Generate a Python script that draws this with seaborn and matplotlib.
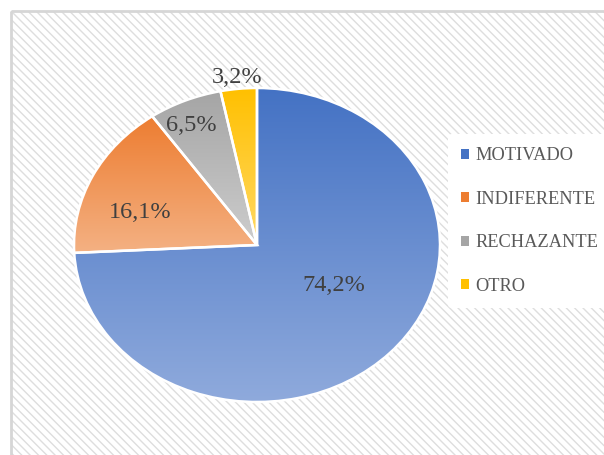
import numpy as np
import matplotlib
matplotlib.use("Agg")
import matplotlib.pyplot as plt
from matplotlib.patches import Rectangle, Patch
from matplotlib.colors import to_rgb
import seaborn as sns

categories = ["MOTIVADO", "INDIFERENTE", "RECHAZANTE", "OTRO"]
values = [74.2, 16.1, 6.5, 3.2]
top_colors = ["#4472C4", "#ED7D31", "#A5A5A5", "#FFC000"]
bottom_colors = ["#8FAADC", "#F4B183", "#CDCDCD", "#FFD966"]

sns.set_theme(style="white")
plt.rcParams["font.family"] = ["Liberation Serif", "DejaVu Serif"]
plt.rcParams["hatch.linewidth"] = 1.0

W, H = 604, 455
fig = plt.figure(figsize=(W / 100, H / 100), dpi=100)
fig.patch.set_facecolor("white")

# background frame with diagonal hatch
bg = fig.add_axes([0, 0, 1, 1])
bg.set_xlim(0, W)
bg.set_ylim(H, 0)
bg.axis("off")
bg.add_patch(Rectangle((11, 11), W, H, facecolor="white", edgecolor="#dedede",
                       hatch="\\\\\\\\", linewidth=0))
bg.add_patch(Rectangle((11, 11), W + 20, H + 20, fill=False, edgecolor="#d6d6d6",
                       linewidth=2))

# pie axes (elliptical pie as in reference)
cx, cy, rx, ry = 257, 245, 183, 157
ax = fig.add_axes([(cx - rx) / W, (H - cy - ry) / H, 2 * rx / W, 2 * ry / H])
ax.set_facecolor("none")

wedges, texts, autotexts = ax.pie(
    values, colors=top_colors, startangle=90, counterclock=False,
    autopct=lambda p: f"{p:.1f}%".replace(".", ","),
    wedgeprops=dict(edgecolor="white", linewidth=1.8),
    textprops=dict(color="#404040", fontsize=17.5),
)

for w, c0, c1 in zip(wedges, top_colors, bottom_colors):
    bb = w.get_path().get_extents()
    a = np.array(to_rgb(c0))
    b = np.array(to_rgb(c1))
    t = np.linspace(0, 1, 256)[:, None]
    grad = (a[None, :] * (1 - t) + b[None, :] * t)[:, None, :]
    im = ax.imshow(grad, extent=[bb.x0, bb.x1, bb.y0, bb.y1], origin="upper",
                   aspect="auto", interpolation="bilinear", zorder=0.5)
    im.set_clip_path(w)
    w.set_facecolor("none")
    w.set_zorder(1)

label_pos = [(0.42, -0.255), (-0.64, 0.204), (-0.36, 0.764), (-0.109, 1.07)]
for t_, p in zip(autotexts, label_pos):
    t_.set_position(p)
    t_.set_zorder(3)
    t_.set_clip_on(False)

ax.set_aspect("auto")
ax.set_xlim(-1, 1)
ax.set_ylim(-1, 1)
ax.axis("off")

handles = [Patch(facecolor=c, edgecolor="none") for c in top_colors]
leg = fig.legend(handles, categories, loc="center left",
                 bbox_to_anchor=(448 / W, (H - 221) / H),
                 frameon=True, facecolor="white", edgecolor="none", framealpha=1,
                 fontsize=13.2, labelspacing=1.45, handlelength=0.45, handleheight=0.45,
                 handletextpad=0.35, borderpad=0.7, borderaxespad=0)
for txt in leg.get_texts():
    txt.set_color("#595959")

fig.savefig("out.png", dpi=100)
